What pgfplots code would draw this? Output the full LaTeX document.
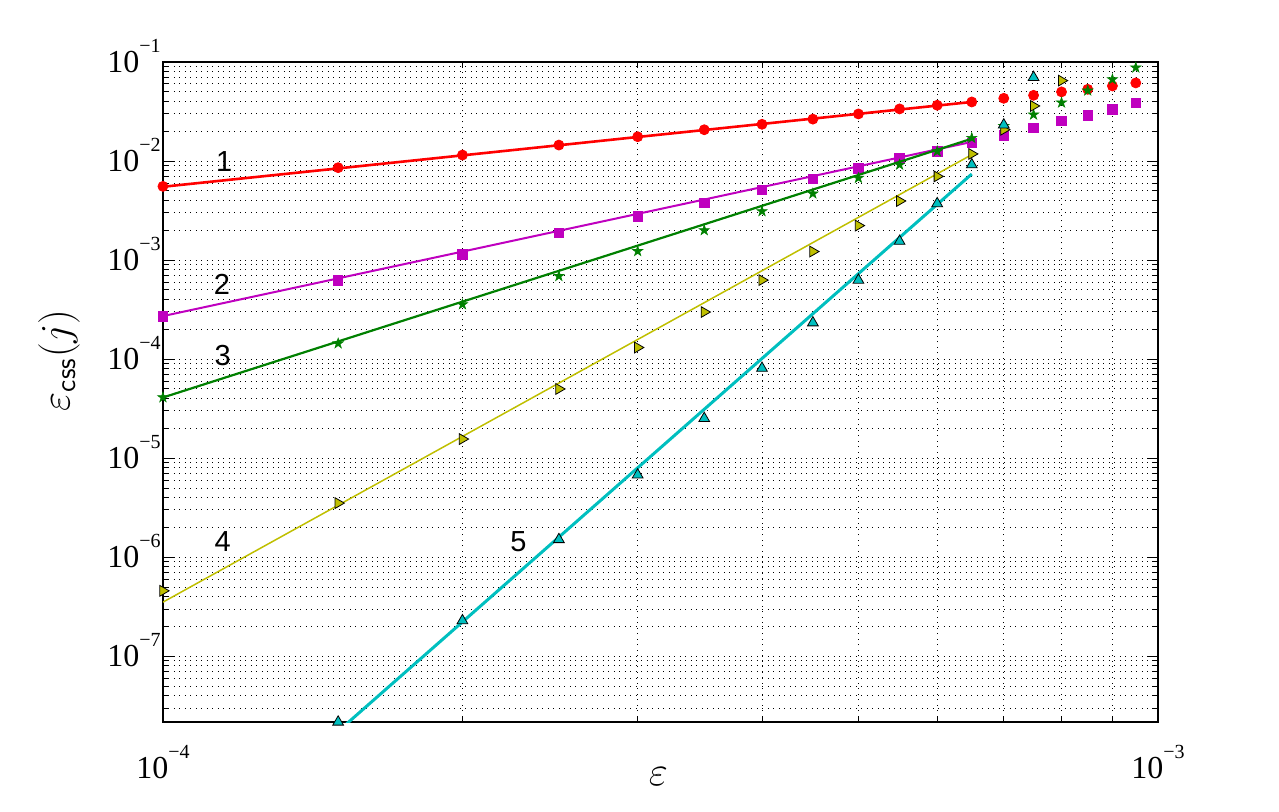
\documentclass[border=0pt]{standalone}
\usepackage{fontspec}
\setmainfont{Liberation Serif}
\newfontfamily\annfont{Liberation Sans}
\usepackage{pgfplots}
\usepackage{pgfplotstable}
\pgfplotsset{compat=1.18}

\definecolor{cRed}{rgb}{1,0,0}
\definecolor{cMag}{rgb}{0.75,0,0.75}
\definecolor{cGrn}{rgb}{0,0.5,0}
\definecolor{cYel}{rgb}{0.75,0.75,0}
\definecolor{cCya}{rgb}{0,0.75,0.75}

% filled five-point star marker
\pgfdeclareplotmark{pentagram}{%
  \pgfpathmoveto{\pgfpointpolar{90}{\pgfplotmarksize}}%
  \pgfpathlineto{\pgfpointpolar{126}{0.382\pgfplotmarksize}}%
  \pgfpathlineto{\pgfpointpolar{162}{\pgfplotmarksize}}%
  \pgfpathlineto{\pgfpointpolar{198}{0.382\pgfplotmarksize}}%
  \pgfpathlineto{\pgfpointpolar{234}{\pgfplotmarksize}}%
  \pgfpathlineto{\pgfpointpolar{270}{0.382\pgfplotmarksize}}%
  \pgfpathlineto{\pgfpointpolar{306}{\pgfplotmarksize}}%
  \pgfpathlineto{\pgfpointpolar{342}{0.382\pgfplotmarksize}}%
  \pgfpathlineto{\pgfpointpolar{18}{\pgfplotmarksize}}%
  \pgfpathlineto{\pgfpointpolar{54}{0.382\pgfplotmarksize}}%
  \pgfpathclose
  \pgfusepathqfillstroke}

% tick label 10^{-n}
\newcommand\tl[1]{{\fontsize{16}{16}\selectfont 10\raisebox{10pt}{\fontsize{10}{10}\selectfont −#1}}}

% measured errors, nan = not shown
\pgfplotstableread{
eps     r       m       g       y       c
1.0e-4  5.55e-3 2.69e-4 4.11e-5 4.58e-7 nan
1.5e-4  8.57e-3 6.24e-4 1.44e-4 3.52e-6 2.17e-8
2.0e-4  1.15e-2 1.14e-3 3.57e-4 1.56e-5 2.29e-7
2.5e-4  1.45e-2 1.88e-3 6.89e-4 5.0e-5  1.51e-6
3.0e-4  1.76e-2 2.77e-3 1.23e-3 1.31e-4 6.79e-6
3.5e-4  2.07e-2 3.77e-3 2.00e-3 2.99e-4 2.52e-5
4.0e-4  2.35e-2 5.11e-3 3.11e-3 6.28e-4 8.1e-5
4.5e-4  2.65e-2 6.64e-3 4.69e-3 1.22e-3 2.33e-4
5.0e-4  2.99e-2 8.43e-3 6.75e-3 2.23e-3 6.28e-4
5.5e-4  3.36e-2 1.06e-2 9.18e-3 3.95e-3 1.55e-3
6.0e-4  3.66e-2 1.25e-2 1.25e-2 7.0e-3  3.72e-3
6.5e-4  3.95e-2 1.52e-2 1.71e-2 1.18e-2 9.18e-3
7.0e-4  4.30e-2 1.81e-2 2.25e-2 2.07e-2 2.32e-2
7.5e-4  4.61e-2 2.15e-2 2.94e-2 3.6e-2  7.0e-2
8.0e-4  4.99e-2 2.55e-2 3.89e-2 6.49e-2 nan
8.5e-4  5.30e-2 2.90e-2 5.14e-2 nan     nan
9.0e-4  5.73e-2 3.33e-2 6.68e-2 nan     nan
9.5e-4  6.15e-2 3.87e-2 8.77e-2 nan     nan
}\data

% fitted lines (end points)
\pgfplotstableread{
eps     r       m       g       y       c
1.0e-4  5.5e-3  2.72e-4 4.1e-5  3.52e-7 nan
1.5e-4  nan     nan     nan     nan     1.75e-8
6.5e-4  3.95e-2 1.56e-2 1.68e-2 1.16e-2 7.4e-3
}\fits

\begin{document}
\begin{tikzpicture}
\begin{axis}[
  scale only axis,
  width=497.5pt, height=330pt,
  xmode=log, ymode=log,
  xmin=1e-4, xmax=1e-3,
  ymin=2.17e-8, ymax=0.1,
  xtick={1e-4,1e-3},
  xticklabels={\tl{4},\tl{3}},
  minor xtick={2e-4,3e-4,4e-4,5e-4,6e-4,7e-4,8e-4,9e-4},
  ytick={1e-7,1e-6,1e-5,1e-4,1e-3,1e-2,1e-1},
  yticklabels={\tl{7},\tl{6},\tl{5},\tl{4},\tl{3},\tl{2},\tl{1}},
  minor ytick={3e-8,4e-8,5e-8,6e-8,7e-8,8e-8,9e-8,
    2e-7,3e-7,4e-7,5e-7,6e-7,7e-7,8e-7,9e-7,
    2e-6,3e-6,4e-6,5e-6,6e-6,7e-6,8e-6,9e-6,
    2e-5,3e-5,4e-5,5e-5,6e-5,7e-5,8e-5,9e-5,
    2e-4,3e-4,4e-4,5e-4,6e-4,7e-4,8e-4,9e-4,
    2e-3,3e-3,4e-3,5e-3,6e-3,7e-3,8e-3,9e-3,
    2e-2,3e-2,4e-2,5e-2,6e-2,7e-2,8e-2,9e-2},
  grid=both,
  major grid style={black, line width=0.5pt, dash pattern=on 0.5pt off 2.25pt},
  minor grid style={black, line width=0.5pt, dash pattern=on 0.5pt off 2.25pt},
  major tick length=5.5pt, minor tick length=3pt,
  tick style={black, line width=0.5pt},
  axis line style={line width=0.6pt},
  xticklabel style={anchor=base, yshift=-28pt, inner sep=0pt},
  yticklabel style={anchor=base east, xshift=-1pt, yshift=-5.3pt, inner sep=0pt},
  xlabel={$\varepsilon$},
  ylabel={$\varepsilon_{\mathsf{css}}(j)$},
  xlabel style={at={(axis description cs:0.498,-0.083)}, anchor=center, font=\fontsize{20}{20}\selectfont},
  ylabel style={at={(axis description cs:-0.1045,0.548)}, anchor=center, font=\fontsize{20}{20}\selectfont},
  clip mode=individual,
]
\coordinate (o) at (rel axis cs:0,0);

% 1
\addplot[cRed, line width=1.3pt] table[x=eps, y=r] {\fits};
\addplot[only marks, mark=*, mark size=2.5pt, cRed] table[x=eps, y=r] {\data};
% 2
\addplot[cMag, line width=1pt] table[x=eps, y=m] {\fits};
\addplot[only marks, mark=square*, mark size=2.35pt, cMag] table[x=eps, y=m] {\data};
% 3
\addplot[cGrn, line width=1.1pt] table[x=eps, y=g] {\fits};
\addplot[only marks, mark=pentagram, mark size=2.7pt, cGrn, mark options={line width=0.3pt}] table[x=eps, y=g] {\data};
% 4
\addplot[cYel, line width=0.75pt] table[x=eps, y=y] {\fits};
\addplot[only marks, mark=triangle*, mark size=3.1pt,
  mark options={rotate=-90, fill=cYel, draw=black, line width=0.4pt}] table[x=eps, y=y] {\data};
% 5
\addplot[cCya, line width=1.5pt] table[x=eps, y=c] {\fits};
\addplot[only marks, mark=triangle*, mark size=3.1pt,
  mark options={fill=cCya, draw=black, line width=0.4pt}] table[x=eps, y=c] {\data};

\node[font=\annfont\fontsize{14.5}{14.5}\selectfont] at (axis cs:1.152e-4,9.84e-3) {1};
\node[font=\annfont\fontsize{14.5}{14.5}\selectfont] at (axis cs:1.146e-4,5.74e-4) {2};
\node[font=\annfont\fontsize{14.5}{14.5}\selectfont] at (axis cs:1.148e-4,1.09e-4) {3};
\node[font=\annfont\fontsize{14.5}{14.5}\selectfont] at (axis cs:1.148e-4,1.44e-6) {4};
\node[font=\annfont\fontsize{14.5}{14.5}\selectfont] at (axis cs:2.276e-4,1.44e-6) {5};
\end{axis}
\path ([shift={(-81.5pt,-45pt)}]o) rectangle ([shift={(558pt,361pt)}]o);
\end{tikzpicture}
\end{document}
